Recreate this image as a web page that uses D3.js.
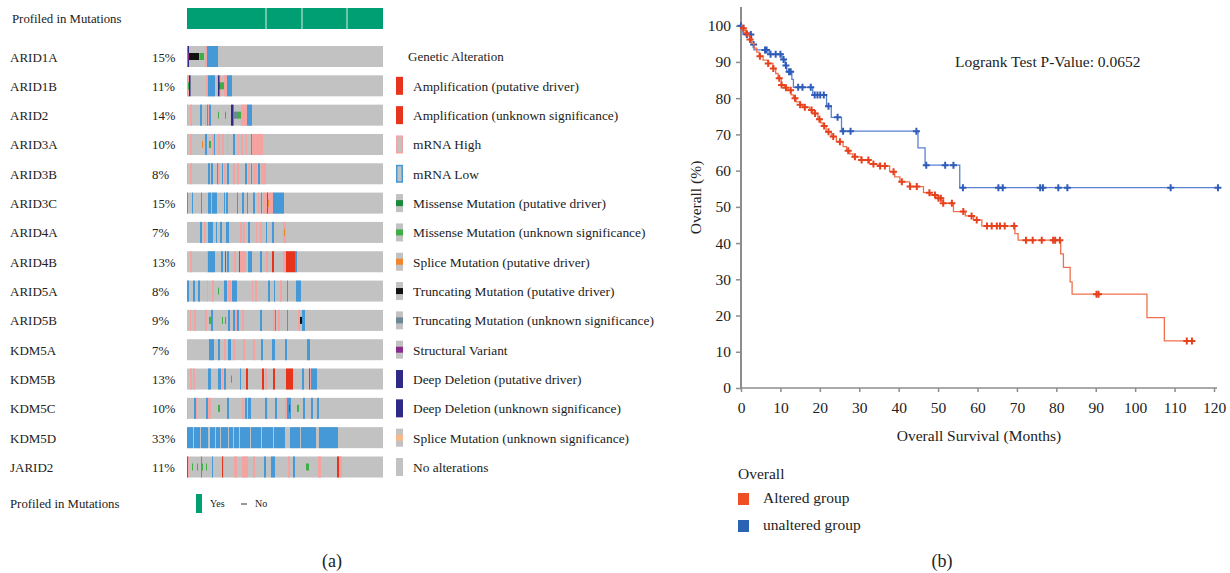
<!DOCTYPE html>
<html>
<head>
<meta charset="utf-8">
<script src="https://cdn.jsdelivr.net/npm/d3@7"></script>
<style>
  body { margin: 0; background: #fff; }
  svg { display: block; font-family: "Liberation Serif", "DejaVu Serif", serif; }
</style>
</head>
<body>
<svg id="chart" width="1230" height="573"></svg>
<script>
// ---------- data: oncoprint (panel a) ----------
const genes = ["ARID1A", "ARID1B", "ARID2", "ARID3A", "ARID3B", "ARID3C", "ARID4A", "ARID4B",
               "ARID5A", "ARID5B", "KDM5A", "KDM5B", "KDM5C", "KDM5D", "JARID2"];
const pcts = ["15%", "11%", "14%", "10%", "8%", "15%", "7%", "13%", "8%", "9%", "7%", "13%", "10%", "33%", "11%"];
const nSamples = 196;
const profiledGaps = [79, 115, 160];

// per gene: [first sample, number of samples, alteration code]
const alterations = [
  [[0,1,"L"],[1,1,"D"],[1,1,"V"],[2,10,"T"],[12,1,"S"],[13,4,"M"],[18,2,"H"],[20,11,"L"]],
  [[0,2,"H"],[1,1,"M"],[2,1.5,"D"],[19,2,"H"],[21,7,"L"],[30,1,"H"],[31,1.5,"D"],[32,1,"V"],[33,1,"H"],[33,4,"M"],[37,3,"H"],[40,5,"L"]],
  [[0,1,"H"],[3,2,"H"],[13,2,"L"],[18,1,"H"],[20,1,"L"],[21,1,"H"],[22,2,"L"],[31,1,"M"],[38,1,"M"],[44,2.5,"D"],[47,4,"t"],[51,3,"M"],[54,6,"H"],[60,5,"L"]],
  [[0,1,"H"],[3,2,"H"],[15,1,"S"],[18,2,"L"],[22,2,"M"],[25,2,"H"],[27,1,"L"],[31,2,"H"],[35,2,"H"],[40,1,"H"],[46,2,"L"],[51,1,"H"],[54,2,"H"],[59,1,"H"],[64,1,"L"],[65,11,"H"]],
  [[0,1,"H"],[3,2,"H"],[21,2,"L"],[24,2,"L"],[30,1,"L"],[31,2,"H"],[35,1,"L"],[37,2,"H"],[40,2,"L"],[46,2,"H"],[50,2,"H"],[58,2,"L"],[61,2,"H"],[64,1,"L"],[66,4,"H"],[71,2,"L"],[74,5,"H"]],
  [[0,1,"L"],[5,1,"L"],[14,1,"L"],[21,3,"L"],[24,1,"H"],[25,5,"L"],[37,1,"L"],[39,2,"L"],[50,1,"L"],[55,2,"L"],[60,1,"L"],[66,2,"L"],[71,1,"H"],[74,1,"L"],[76,4,"H"],[80,1,"A"],[81,1,"H"],[81,1,"S"],[82,4,"H"],[86,11,"L"]],
  [[13,2,"L"],[17,2,"H"],[21,5,"L"],[29,1,"L"],[33,2,"L"],[39,3,"L"],[53,2,"H"],[56,2,"H"],[61,2,"L"],[69,1,"H"],[73,2,"H"],[79,1,"L"],[85,2,"L"],[96,3,"H"],[97,1,"S"]],
  [[3,2,"H"],[20,1,"H"],[21,7,"L"],[34,2,"L"],[38,1,"A"],[40,2,"L"],[47,2,"H"],[52,1,"A"],[53,6,"H"],[61,4,"L"],[73,2,"L"],[79,2,"H"],[85,2,"A"],[96,3,"H"],[99,9,"A"],[108,2,"L"]],
  [[0,2,"L"],[6,2,"L"],[11,2,"L"],[20,1,"H"],[25,2,"H"],[31,1,"M"],[37,2,"L"],[39,1,"L"],[41,3,"H"],[45,5,"L"],[65,1,"H"],[68,2,"H"],[81,2,"L"],[87,1,"L"],[93,2,"H"],[100,1,"L"],[109,5,"L"]],
  [[3,1,"H"],[7,2,"H"],[18,2,"H"],[22,2,"M"],[24,2,"L"],[35,1,"M"],[38,1,"M"],[41,2,"L"],[46,2,"L"],[48,2,"H"],[50,2,"L"],[55,2,"H"],[73,2,"L"],[86,2,"H"],[88,1,"L"],[91,2,"H"],[100,1,"L"],[111,2,"H"],[113,2,"T"],[115,3,"L"]],
  [[22,3,"L"],[25,2,"L"],[31,2,"L"],[37,2,"H"],[41,3,"L"],[46,2,"H"],[56,2,"H"],[66,2,"H"],[74,2,"L"],[85,3,"L"],[98,2,"L"],[120,3,"L"]],
  [[3,2,"H"],[6,2,"H"],[21,3,"L"],[31,3,"L"],[35,1,"H"],[37,2,"L"],[44,1,"M"],[53,1,"L"],[59,2,"A"],[75,2,"A"],[78,2,"H"],[86,2,"A"],[99,7,"A"],[115,2,"L"],[122,1,"A"],[123,1,"H"],[124,6,"L"]],
  [[0,1,"H"],[7,2,"L"],[9,1,"H"],[19,2,"L"],[21,3,"H"],[31,2,"M"],[40,2,"L"],[55,2,"H"],[58,2,"L"],[61,3,"L"],[78,2,"L"],[80,1,"H"],[88,2,"L"],[98,2,"H"],[100,4,"L"],[102,1,"V"],[110,2,"M"],[116,2,"L"],[124,2,"L"],[130,2,"L"]],
  [[0,6,"L"],[7,6,"L"],[14,7,"L"],[23,5,"L"],[29,4,"L"],[34,7,"L"],[42,4,"L"],[47,5,"L"],[53,10,"L"],[64,10,"L"],[75,11,"L"],[87,11,"L"],[103,10,"L"],[114,15,"L"],[132,19,"L"]],
  [[0,1,"A"],[1,1,"H"],[5,1,"M"],[10,1,"M"],[14,1,"L"],[15,1,"M"],[19,1,"M"],[25,1,"L"],[35,1,"A"],[36,1,"H"],[47,3,"H"],[55,6,"H"],[66,2,"H"],[77,2,"L"],[84,4,"L"],[101,2,"H"],[106,2,"L"],[119,3,"M"],[131,3,"H"],[150,2,"A"],[152,3,"H"]]
];

const legendLabels = ["Amplification (putative driver)", "Amplification (unknown significance)", "mRNA High", "mRNA Low",
  "Missense Mutation (putative driver)", "Missense Mutation (unknown significance)", "Splice Mutation (putative driver)",
  "Truncating Mutation (putative driver)", "Truncating Mutation (unknown significance)", "Structural Variant",
  "Deep Deletion (putative driver)", "Deep Deletion (unknown significance)", "Splice Mutation (unknown significance)", "No alterations"];
const legendCodes = ["A", "A", "H", "L", "Md", "M", "S", "T", "t", "V", "D", "D", "s", "N"];

// ---------- data: Kaplan-Meier (panel b) ----------
// [month, survival %] at each drop
const alteredSteps = [[0,100],[0.6,99.3],[1.0,98.6],[1.4,97.9],[1.8,97.2],[2.3,96.2],[2.7,95.1],[3.3,93.8],[4.0,92.7],[4.6,91.6],
  [5.6,90.5],[6.9,89.6],[8.1,88.2],[8.8,86.8],[9.4,85.5],[10.2,83.6],[11.0,82.9],[11.5,82.2],[12.7,80.9],[13.3,80.0],
  [14.0,79.0],[15.0,78.2],[15.7,77.5],[17.4,76.7],[18.2,75.8],[19.5,74.2],[20.2,73.2],[20.8,72.3],[21.6,70.7],[22.9,69.4],
  [24.2,68.0],[25.9,66.6],[26.8,65.5],[27.6,64.6],[28.4,63.8],[30.5,62.9],[32.6,61.8],[35.2,61.3],[37.7,59.7],[39.0,58.3],
  [40.3,56.9],[42.8,55.6],[46.3,53.9],[48.0,53.3],[49.7,52.4],[51.3,51.0],[53.9,48.7],[56.9,47.5],[59.0,46.4],[61.1,44.7],
  [69.5,42.6],[70.3,40.8],[81.1,37.0],[81.8,33.3],[83.5,29.3],[84.0,25.9],[103.0,19.4],[107.4,13.0]];
const alteredCensor = [0.6,1.4,2.3,4.8,6.9,8.2,9.7,10.3,11.4,12.6,13.7,15.0,16.2,17.9,18.8,19.9,21.1,22.2,23.4,25.1,
  27.2,28.9,30.6,32.3,33.6,35.3,36.5,38.7,40.8,42.9,44.6,47.8,49.2,50.1,50.7,51.3,53.5,56.4,58.5,59.8,
  62.4,63.6,64.9,65.7,66.9,69.3,72.3,74.0,76.3,79.2,79.7,80.9,90.2,90.7,113.1,114.4];
const alteredEnd = 114.8;

const unalteredSteps = [[0,100],[0.5,97.6],[2.7,94.8],[3.3,93.3],[7.1,92.1],[10.4,90.7],[11.2,89.0],[11.6,87.3],[12.9,85.2],
  [13.3,83.0],[18.2,80.9],[21.7,77.8],[22.9,74.7],[25.5,70.9],[44.9,66.3],[46.7,61.5],[55.5,55.3]];
const unalteredCensor = [0,1.5,2.5,3.2,6.1,6.5,7.5,8.8,10.0,10.8,11.4,12.2,12.6,14.5,15.6,17.7,18.7,19.4,20.1,21.0,
  22.2,24.5,25.9,27.8,44.5,47.0,51.8,53.9,56.3,65.3,66.4,75.9,76.6,80.5,82.8,109.0,121.0];
const unalteredEnd = 121;

const xTicks = d3.range(0, 121, 10);
const yTicks = d3.range(0, 101, 10);
const groupLabels = ["Altered group", "unaltered group"];

// ---------- drawing ----------
const svg = d3.select("#chart");
const GRAY = "#c2c2c2";
const col = { A: "#e8341c", H: "#f4a3a1", L: "#4499d6", D: "#2e2a86", M: "#3fae45", Md: "#1a8a3c",
              T: "#111111", t: "#6e8796", S: "#f0862a", s: "#f8b98a", V: "#8a2a8c" };
const midCodes = new Set(["M", "Md", "T", "t", "S", "s", "V"]);

const x = d3.scaleLinear().domain([0, nSamples]).range([187, 383]);
const y = d3.scaleLinear().domain([0, genes.length - 1]).range([56.5, 467]);
const rowH = 21;

// profiled in mutations bar
svg.append("text").attr("x", 12).attr("y", 23).attr("font-size", 12.8).attr("fill", "#222").text("Profiled in Mutations");
svg.append("rect").attr("x", x(0)).attr("y", 8).attr("width", x(nSamples) - x(0)).attr("height", rowH).attr("fill", "#009e73");
svg.selectAll("line.pgap").data(profiledGaps).enter().append("line").attr("class", "pgap")
  .attr("x1", d => x(d)).attr("x2", d => x(d)).attr("y1", 8).attr("y2", 8 + rowH)
  .attr("stroke", "#d8efe6").attr("stroke-width", 1);

const rows = svg.selectAll("g.row").data(genes).enter().append("g").attr("class", "row")
  .attr("transform", (d, i) => `translate(0,${y(i)})`);
rows.append("text").attr("x", 10).attr("y", 5).attr("font-size", 13).attr("fill", "#222").text(d => d);
rows.append("text").attr("x", 152).attr("y", 5).attr("font-size", 12.8).attr("fill", "#222").text((d, i) => pcts[i]);
rows.append("rect").attr("x", x(0)).attr("y", -rowH / 2).attr("width", x(nSamples) - x(0)).attr("height", rowH).attr("fill", GRAY);
rows.each(function (g, i) {
  const row = d3.select(this);
  const full = alterations[i].filter(a => !midCodes.has(a[2]));
  const mid = alterations[i].filter(a => midCodes.has(a[2]));
  row.selectAll("rect.full").data(full).enter().append("rect").attr("class", "full")
    .attr("x", a => x(a[0])).attr("width", a => x(a[0] + a[1]) - x(a[0]))
    .attr("y", -rowH / 2).attr("height", rowH).attr("fill", a => col[a[2]]);
  row.selectAll("rect.mid").data(mid).enter().append("rect").attr("class", "mid")
    .attr("x", a => x(a[0])).attr("width", a => x(a[0] + a[1]) - x(a[0]))
    .attr("y", -rowH / 6).attr("height", rowH / 3).attr("fill", a => col[a[2]]);
});

// alteration legend
svg.append("text").attr("x", 408).attr("y", y(0) + 4).attr("font-size", 13).attr("fill", "#222").text("Genetic Alteration");
const leg = svg.selectAll("g.leg").data(legendLabels).enter().append("g").attr("class", "leg")
  .attr("transform", (d, i) => `translate(396,${y(i + 1)})`);
leg.each(function (d, i) {
  const g = d3.select(this), c = legendCodes[i];
  if (c === "A" || c === "D") {
    g.append("rect").attr("x", 0).attr("y", -9).attr("width", 7).attr("height", 18).attr("fill", col[c]);
  } else if (c === "H" || c === "L") {
    g.append("rect").attr("x", 0.75).attr("y", -8.25).attr("width", 5.5).attr("height", 16.5)
      .attr("fill", GRAY).attr("stroke", col[c]).attr("stroke-width", 1.5);
  } else {
    g.append("rect").attr("x", 0).attr("y", -9).attr("width", 7).attr("height", 18).attr("fill", GRAY);
    if (c !== "N") g.append("rect").attr("x", 0).attr("y", -3).attr("width", 7).attr("height", 6).attr("fill", col[c]);
  }
  g.append("text").attr("x", 17).attr("y", 5).attr("font-size", 13.4).attr("fill", "#222").text(d);
});

// profiled legend at bottom
svg.append("text").attr("x", 10).attr("y", 508).attr("font-size", 12.8).attr("fill", "#222").text("Profiled in Mutations");
svg.append("rect").attr("x", 196).attr("y", 494).attr("width", 6).attr("height", 19).attr("fill", "#009e73");
svg.append("text").attr("x", 210).attr("y", 507).attr("font-size", 10).attr("fill", "#222").text("Yes");
svg.append("rect").attr("x", 241).attr("y", 503).attr("width", 6).attr("height", 2).attr("fill", "#999");
svg.append("text").attr("x", 255).attr("y", 507).attr("font-size", 10).attr("fill", "#222").text("No");
svg.append("text").attr("x", 332).attr("y", 567).attr("text-anchor", "middle").attr("font-size", 18).attr("fill", "#222").text("(a)");

// ---------- Kaplan-Meier ----------
const xk = d3.scaleLinear().domain([0, 120]).range([741, 1214]);
const yk = d3.scaleLinear().domain([0, 100]).range([388, 25.7]);

const yAxis = svg.append("g").attr("transform", "translate(741,0)")
  .call(d3.axisLeft(yk).tickValues(yTicks).tickSize(5).tickSizeOuter(0).tickPadding(5));
const xAxis = svg.append("g").attr("transform", "translate(0,388)")
  .call(d3.axisBottom(xk).tickValues(xTicks).tickSize(4).tickSizeOuter(0).tickPadding(10));
[yAxis, xAxis].forEach(a => {
  a.select(".domain").remove();
  a.selectAll(".tick line").attr("stroke", "#8c8c8c").attr("stroke-width", 1.5);
  a.selectAll(".tick text").attr("font-family", "Liberation Serif").attr("font-size", 15.5).attr("fill", "#222");
});
svg.append("line").attr("x1", 741).attr("x2", 741).attr("y1", 7).attr("y2", yk(0) + 1)
  .attr("stroke", "#8c8c8c").attr("stroke-width", 2);
svg.append("line").attr("x1", 740).attr("x2", 1217).attr("y1", yk(0)).attr("y2", yk(0))
  .attr("stroke", "#8c8c8c").attr("stroke-width", 1.5);

svg.append("text").attr("transform", `translate(701,${(7 + 388) / 2}) rotate(-90)`).attr("text-anchor", "middle")
  .attr("font-size", 15.5).attr("fill", "#222").text("Overall (%)");
svg.append("text").attr("x", 979).attr("y", 441).attr("text-anchor", "middle")
  .attr("font-size", 15.5).attr("fill", "#222").text("Overall Survival (Months)");
svg.append("text").attr("x", 955).attr("y", 67).attr("font-size", 15.5).attr("fill", "#222")
  .text("Logrank Test P-Value: 0.0652");

const survAt = (steps, t) => {
  let s = steps[0][1];
  steps.forEach(p => { if (p[0] <= t) s = p[1]; });
  return s;
};
const kmLine = d3.line().x(d => xk(d[0])).y(d => yk(d[1])).curve(d3.curveStepAfter);
const groups = [
  { steps: unalteredSteps, censor: unalteredCensor, end: unalteredEnd, line: "#5b80d2", mark: "#2f5cb8" },
  { steps: alteredSteps, censor: alteredCensor, end: alteredEnd, line: "#f0704c", mark: "#e6401c" }
];
groups.forEach(g => {
  const pts = g.steps.concat([[g.end, g.steps[g.steps.length - 1][1]]]);
  svg.append("path").attr("d", kmLine(pts)).attr("fill", "none").attr("stroke", g.line).attr("stroke-width", 1.3);
  svg.append("g").selectAll("path").data(g.censor).enter().append("path")
    .attr("transform", t => `translate(${xk(t)},${yk(survAt(g.steps, t))})`)
    .attr("d", "M-3.5,0H3.5M0,-3.5V3.5").attr("stroke", g.mark).attr("stroke-width", 2).attr("fill", "none");
});

// KM legend
svg.append("text").attr("x", 738).attr("y", 479).attr("font-size", 15.5).attr("fill", "#222").text("Overall");
const kleg = svg.selectAll("g.kleg").data(groupLabels).enter().append("g").attr("class", "kleg")
  .attr("transform", (d, i) => `translate(738,${493 + i * 27})`);
kleg.append("rect").attr("width", 11).attr("height", 12).attr("fill", (d, i) => i === 0 ? "#f04e23" : "#2a63b3");
kleg.append("text").attr("x", 25).attr("y", 10).attr("font-size", 15.5).attr("fill", "#222").text(d => d);
svg.append("text").attr("x", 942).attr("y", 567).attr("text-anchor", "middle").attr("font-size", 18).attr("fill", "#222").text("(b)");
</script>
</body>
</html>
